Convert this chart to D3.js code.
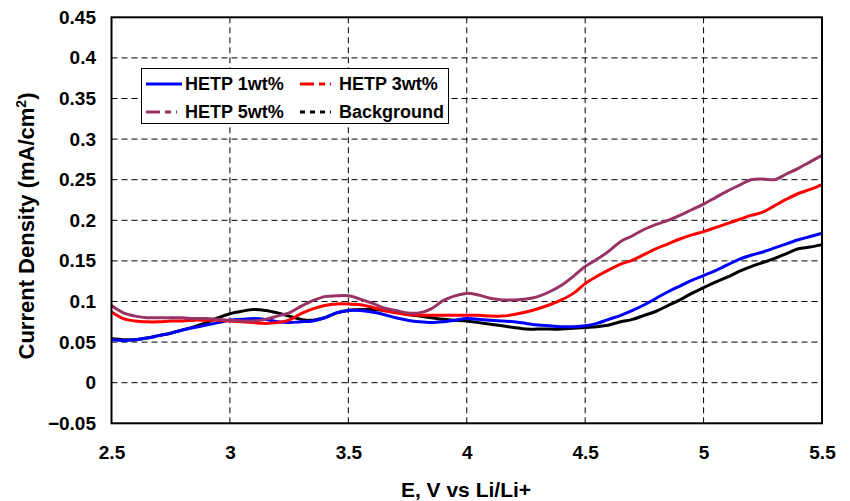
<!DOCTYPE html>
<html><head><meta charset="utf-8">
<script src="https://cdn.jsdelivr.net/npm/d3@7"></script>
<style>body{margin:0;background:#fff}svg{display:block}text{font-family:"Liberation Sans",Arial,sans-serif;font-weight:bold;fill:#000}</style>
</head><body>
<svg id="c" width="850" height="501"></svg>
<script>
const voltage = d3.range(61).map(i => +(2.5 + i*0.05).toFixed(2));
const hetp1 = [0.053,0.052,0.053,0.055,0.058,0.061,0.065,0.068,0.071,0.074,0.077,0.078,0.079,0.078,0.075,0.074,0.075,0.076,0.080,0.086,0.089,0.089,0.087,0.084,0.080,0.077,0.075,0.074,0.075,0.077,0.079,0.078,0.077,0.076,0.075,0.073,0.071,0.070,0.069,0.069,0.070,0.073,0.078,0.083,0.089,0.096,0.104,0.112,0.119,0.126,0.132,0.138,0.145,0.152,0.157,0.161,0.166,0.171,0.176,0.180,0.184];
const hetp3 = [0.087,0.079,0.076,0.075,0.075,0.076,0.076,0.077,0.077,0.077,0.076,0.075,0.074,0.073,0.074,0.077,0.085,0.091,0.095,0.097,0.097,0.096,0.093,0.089,0.086,0.084,0.083,0.083,0.083,0.083,0.083,0.083,0.082,0.082,0.084,0.087,0.091,0.096,0.102,0.110,0.122,0.131,0.139,0.146,0.151,0.158,0.165,0.171,0.177,0.182,0.186,0.191,0.196,0.201,0.206,0.210,0.218,0.226,0.233,0.238,0.244];
const hetp5 = [0.095,0.086,0.082,0.080,0.080,0.080,0.080,0.079,0.079,0.078,0.077,0.076,0.076,0.078,0.082,0.086,0.094,0.101,0.106,0.107,0.107,0.103,0.098,0.092,0.089,0.086,0.086,0.091,0.101,0.107,0.110,0.108,0.104,0.102,0.102,0.103,0.106,0.112,0.120,0.131,0.143,0.152,0.162,0.174,0.181,0.189,0.195,0.200,0.206,0.213,0.220,0.228,0.236,0.243,0.250,0.251,0.250,0.257,0.264,0.272,0.280];
const background = [0.054,0.053,0.053,0.055,0.058,0.061,0.065,0.069,0.074,0.080,0.085,0.088,0.090,0.089,0.086,0.082,0.078,0.077,0.080,0.086,0.089,0.090,0.090,0.089,0.087,0.084,0.082,0.080,0.078,0.077,0.076,0.074,0.072,0.070,0.068,0.066,0.066,0.066,0.066,0.067,0.068,0.069,0.071,0.075,0.078,0.083,0.088,0.095,0.102,0.110,0.117,0.124,0.130,0.137,0.143,0.148,0.153,0.159,0.165,0.167,0.170];
const xTicks = [2.5,3,3.5,4,4.5,5,5.5];
const yTicks = [-0.05,0,0.05,0.1,0.15,0.2,0.25,0.3,0.35,0.4,0.45];
const seriesNames = ["HETP 1wt%","HETP 3wt%","HETP 5wt%","Background"];
const seriesColors = ["#0000ff","#ff0000","#993366","#000000"];
const seriesDash = [null,"14,5,6,5","14,5,6,5","5,5"];
const seriesData = [hetp1,hetp3,hetp5,background];

const svg = d3.select("#c");
const L=111.5,R=822,T=17.3,B=423.3;
const x = d3.scaleLinear().domain([2.5,5.5]).range([L,R]);
const y = d3.scaleLinear().domain([-0.05,0.45]).range([B,T]);

// grid
svg.append("g").selectAll("line").data(yTicks.slice(1,-1)).join("line")
  .attr("x1",L).attr("x2",R).attr("y1",d=>y(d)).attr("y2",d=>y(d))
  .attr("stroke","#000").attr("stroke-width",1).attr("stroke-dasharray","6,4");
svg.append("g").selectAll("line").data(xTicks.slice(1,-1)).join("line")
  .attr("y1",T).attr("y2",B).attr("x1",d=>x(d)).attr("x2",d=>x(d))
  .attr("stroke","#000").attr("stroke-width",1).attr("stroke-dasharray","6,4");

// axes labels via d3 axes
const ax = svg.append("g").attr("transform",`translate(0,${B})`)
  .call(d3.axisBottom(x).tickValues(xTicks).tickSize(0).tickPadding(22).tickFormat(d3.format("")));
ax.select(".domain").remove();
ax.selectAll("text").style("font-size","19px").attr("font-family",null);
const ay = svg.append("g").attr("transform",`translate(${L},0)`)
  .call(d3.axisLeft(y).tickValues(yTicks).tickSize(0).tickPadding(15.5).tickFormat(d=>d3.format("")(+d.toFixed(2))));
ay.select(".domain").remove();
ay.selectAll("text").style("font-size","19px").attr("font-family",null);

// lines
const line = d3.line().x((d,i)=>x(voltage[i])).y(d=>y(d)).curve(d3.curveCatmullRom);
[3,0,1,2].forEach(k=>{
  svg.append("path").datum(seriesData[k]).attr("d",line)
    .attr("fill","none").attr("stroke",seriesColors[k]).attr("stroke-width",3).attr("stroke-linejoin","round");
});

// frame
svg.append("rect").attr("x",L).attr("y",T).attr("width",R-L).attr("height",B-T)
  .attr("fill","none").attr("stroke","#000").attr("stroke-width",2);

// legend
const lg = svg.append("g");
lg.append("rect").attr("x",141.5).attr("y",68.5).attr("width",307).attr("height",55)
  .attr("fill","#fff").attr("stroke","#000").attr("stroke-width",1);
const pos = [[146,185,84],[300,339,84],[146,185,112],[300,339,112]];
seriesNames.forEach((n,k)=>{
  const [sx,tx,cy]=pos[k];
  lg.append("line").attr("x1",sx).attr("x2",sx+(k==0?36:31)).attr("y1",cy).attr("y2",cy)
    .attr("stroke",seriesColors[k]).attr("stroke-width",3).attr("stroke-dasharray",seriesDash[k]);
  lg.append("text").attr("x",tx).attr("y",cy+6).style("font-size","18px").text(n);
});

// titles
svg.append("text").attr("x",466).attr("y",497).attr("text-anchor","middle").style("font-size","21px").text("E, V vs Li/Li+");
const yt = svg.append("text").attr("transform","translate(34,226) rotate(-90)").attr("text-anchor","middle").style("font-size","22px");
yt.append("tspan").text("Current Density (mA/cm");
yt.append("tspan").attr("dy",-8).style("font-size","14px").text("2");
yt.append("tspan").attr("dy",8).text(")");
</script>
</body></html>
